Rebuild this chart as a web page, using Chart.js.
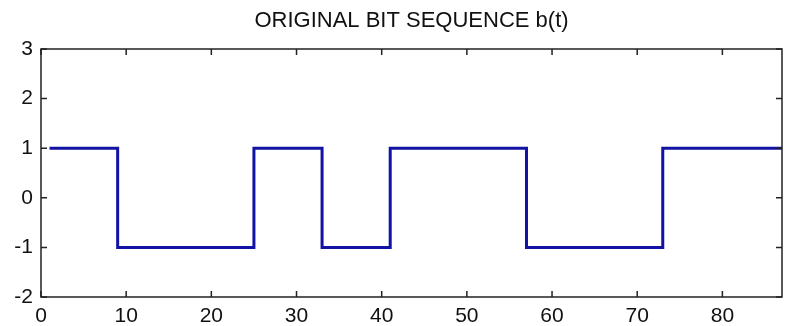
<!DOCTYPE html>
<html>
<head>
<meta charset="utf-8">
<script src="https://cdn.jsdelivr.net/npm/chart.js@4/dist/chart.umd.min.js"></script>
<style>
	html, body { margin: 0; padding: 0; background: #fff; }
	#wrap { width: 786px; height: 326px; }
</style>
</head>
<body>
<div id="wrap"><canvas id="bitChart"></canvas></div>
<script>
// each bit starts at this sample and holds for 8 samples
const bitStart = [1, 9, 17, 25, 33, 41, 49, 57, 65, 73, 81, 89];
const bitValue = [1, -1, -1, 1, -1, 1, 1, -1, -1, 1, 1, 1];

const xTicks = [0, 10, 20, 30, 40, 50, 60, 70, 80];
const yTicks = [-2, -1, 0, 1, 2, 3];

const labelFont = { family: "'Liberation Sans', Arial, sans-serif", size: 21 };

// matlab style box with ticks pointing inwards
const boxPlugin = {
	id: "box",
	afterDraw(chart) {
		const ctx = chart.ctx;
		const a = chart.chartArea;
		const x = chart.scales.x;
		const y = chart.scales.y;
		ctx.save();
		ctx.strokeStyle = "#222";
		ctx.lineWidth = 1.5;
		ctx.strokeRect(a.left, a.top, a.right - a.left, a.bottom - a.top);
		ctx.beginPath();
		xTicks.forEach(function (t) {
			const px = x.getPixelForValue(t);
			ctx.moveTo(px, a.bottom);
			ctx.lineTo(px, a.bottom - 6);
			ctx.moveTo(px, a.top);
			ctx.lineTo(px, a.top + 6);
		});
		yTicks.forEach(function (t) {
			const py = y.getPixelForValue(t);
			ctx.moveTo(a.left, py);
			ctx.lineTo(a.left + 6, py);
			ctx.moveTo(a.right, py);
			ctx.lineTo(a.right - 6, py);
		});
		ctx.stroke();
		ctx.restore();
	},
};

const points = [];
for (let i = 0; i < bitStart.length; i++) {
	points.push({ x: bitStart[i], y: bitValue[i] });
}

new Chart(document.getElementById("bitChart"), {
	type: "line",
	data: {
		datasets: [
			{
				data: points,
				stepped: true,
				borderColor: "#1212a4",
				borderWidth: 3,
				pointRadius: 0,
				fill: false,
			},
		],
	},
	options: {
		responsive: true,
		maintainAspectRatio: false,
		animation: false,
		layout: { padding: { left: 0, right: 4, top: 0, bottom: 0 } },
		plugins: {
			legend: { display: false },
			tooltip: { enabled: false },
			title: {
				display: true,
				fullSize: false, // centre over the plot box, not the canvas
				text: "ORIGINAL BIT SEQUENCE b(t)",
				color: "#111",
				font: { family: "'Liberation Sans', Arial, sans-serif", size: 22, weight: "normal", lineHeight: 1.2 },
				padding: { top: 8, bottom: 14.6 },
			},
		},
		scales: {
			x: {
				type: "linear",
				min: 0,
				max: 87,
				afterFit(scale) { scale.height = 29; },
				grid: { display: false, drawTicks: false },
				border: { display: false },
				ticks: {
					stepSize: 10,
					includeBounds: false,
					padding: 7,
					color: "#111",
					font: labelFont,
					maxRotation: 0,
				},
			},
			y: {
				min: -2,
				max: 3,
				afterFit(scale) { scale.width = 41; },
				grid: { display: false, drawTicks: false },
				border: { display: false },
				ticks: {
					stepSize: 1,
					padding: 8,
					color: "#111",
					font: labelFont,
				},
			},
		},
	},
	plugins: [boxPlugin],
});
</script>
</body>
</html>
